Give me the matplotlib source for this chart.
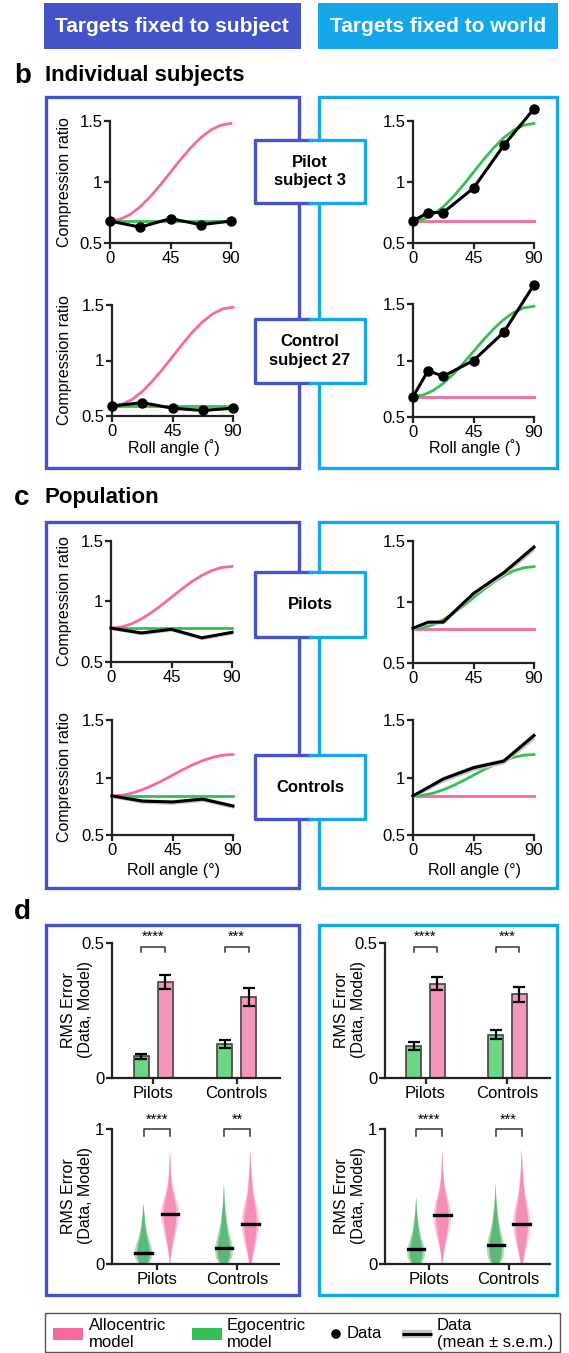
import matplotlib.pyplot as plt
from matplotlib.patches import Rectangle, Circle
import numpy as np

plt.rcParams['font.family'] = ['Liberation Sans', 'DejaVu Sans']

VIOLET = '#4453C7'
SKY = '#16A6EA'
PINK = '#F46A9F'
GREEN = '#35BF55'
BAR_PINK = '#F596BC'
BAR_GREEN = '#6ED486'
VIO_PINK = '#F48DB8'
VIO_PINK_EDGE = '#F9C3DA'
VIO_GREEN = '#5DB97A'
VIO_GREEN_EDGE = '#ADDCBB'

# ---- model curves (compression ratio vs roll angle) ----
model_ang = [0, 7.5, 15, 22.5, 30, 37.5, 45, 52.5, 60, 67.5, 75, 82.5, 90]
rot_pilot3 = [0.68, 0.694, 0.734, 0.797, 0.88, 0.976, 1.08, 1.184, 1.28, 1.363, 1.426, 1.466, 1.48]
rot_control27_subj = [0.59, 0.605, 0.65, 0.72, 0.813, 0.92, 1.035, 1.15, 1.258, 1.35, 1.42, 1.465, 1.48]
rot_control27_world = [0.68, 0.694, 0.734, 0.797, 0.88, 0.976, 1.08, 1.184, 1.28, 1.363, 1.426, 1.466, 1.48]
rot_pilots = [0.78, 0.789, 0.814, 0.855, 0.908, 0.969, 1.035, 1.101, 1.163, 1.215, 1.256, 1.281, 1.29]
rot_controls = [0.84, 0.846, 0.864, 0.893, 0.93, 0.973, 1.02, 1.067, 1.11, 1.147, 1.176, 1.194, 1.20]
flat_ang = [0, 90]
flat_pilot3 = [0.68, 0.68]
flat_control27_subj = [0.59, 0.59]
flat_control27_world = [0.68, 0.68]
flat_pilots = [0.78, 0.78]
flat_controls = [0.84, 0.84]

# ---- measured data ----
ang5 = [0, 22.5, 45, 67.5, 90]
ang6 = [0, 11.25, 22.5, 45, 67.5, 90]
pilot3_subj = [0.68, 0.63, 0.70, 0.65, 0.68]
pilot3_world = [0.68, 0.75, 0.75, 0.95, 1.30, 1.60]
control27_subj = [0.59, 0.62, 0.57, 0.55, 0.57]
control27_world = [0.68, 0.91, 0.86, 1.00, 1.25, 1.67]

pilots_subj = [0.78, 0.74, 0.77, 0.70, 0.745]
pilots_subj_sem = [0.012, 0.015, 0.015, 0.015, 0.015]
pilots_world = [0.785, 0.835, 0.835, 1.07, 1.24, 1.45]
pilots_world_sem = [0.012, 0.015, 0.015, 0.018, 0.022, 0.03]
controls_subj = [0.84, 0.795, 0.787, 0.812, 0.752]
controls_subj_sem = [0.015, 0.02, 0.02, 0.02, 0.02]
controls_world = [0.84, 0.987, 1.085, 1.143, 1.365]
controls_world_sem = [0.015, 0.025, 0.025, 0.025, 0.035]

# ---- RMS error summaries ----
groups = ['Pilots', 'Controls']
subj_ego = [0.081, 0.126]
subj_ego_sem = [0.009, 0.014]
subj_allo = [0.355, 0.30]
subj_allo_sem = [0.027, 0.033]
world_ego = [0.12, 0.16]
world_ego_sem = [0.015, 0.017]
world_allo = [0.35, 0.31]
world_allo_sem = [0.025, 0.027]
subj_bar_stars = ['****', '***']
world_bar_stars = ['****', '***']
subj_vio_stars = ['****', '**']
world_vio_stars = ['****', '***']

vio_levels = [0, 0.05, 0.1, 0.15, 0.2, 0.25, 0.3, 0.35, 0.4, 0.45,
              0.5, 0.55, 0.6, 0.65, 0.7, 0.75, 0.8, 0.85]
subj_ego_density = [
    [0.6, 1.0, 1.0, 0.8, 0.55, 0.37, 0.24, 0.15, 0.07, 0, 0, 0, 0, 0, 0, 0, 0, 0],
    [0.5, 0.94, 1.0, 0.94, 0.75, 0.56, 0.4, 0.29, 0.2, 0.12, 0.07, 0.035, 0, 0, 0, 0, 0, 0]]
subj_allo_density = [
    [0.03, 0.11, 0.23, 0.4, 0.57, 0.74, 0.9, 1.0, 1.0, 0.85, 0.62, 0.4, 0.26, 0.17, 0.11, 0.07, 0.03, 0],
    [0.12, 0.3, 0.47, 0.65, 0.82, 0.94, 1.0, 0.94, 0.82, 0.65, 0.47, 0.35, 0.26, 0.19, 0.13, 0.08, 0.04, 0]]
world_ego_density = [
    [0.6, 1.0, 1.0, 0.85, 0.6, 0.42, 0.28, 0.18, 0.1, 0.05, 0, 0, 0, 0, 0, 0, 0, 0],
    [0.5, 0.9, 1.0, 0.95, 0.8, 0.6, 0.44, 0.32, 0.22, 0.14, 0.08, 0.04, 0, 0, 0, 0, 0, 0]]
world_allo_density = [
    [0.05, 0.14, 0.27, 0.44, 0.62, 0.8, 0.95, 1.0, 0.95, 0.8, 0.6, 0.4, 0.26, 0.17, 0.11, 0.07, 0.03, 0],
    [0.12, 0.3, 0.47, 0.65, 0.82, 0.94, 1.0, 0.94, 0.82, 0.65, 0.47, 0.35, 0.26, 0.19, 0.13, 0.08, 0.04, 0]]
subj_ego_med = [0.08, 0.12]
subj_allo_med = [0.37, 0.30]
world_ego_med = [0.11, 0.14]
world_allo_med = [0.36, 0.30]

W, H = 569, 1353
fig = plt.figure(figsize=(W / 100, H / 100), dpi=100)
bg = fig.add_axes([0, 0, 1, 1])
bg.set_xlim(0, W)
bg.set_ylim(H, 0)
bg.axis('off')


def add_ax(x0, x1, ytop, ybot):
    ax = fig.add_axes([x0 / W, 1 - ybot / H, (x1 - x0) / W, (ybot - ytop) / H])
    ax.patch.set_alpha(0)
    for s in ['top', 'right']:
        ax.spines[s].set_visible(False)
    for s in ['left', 'bottom']:
        ax.spines[s].set_linewidth(1.6)
        ax.spines[s].set_color('#222222')
    ax.tick_params(width=1.6, length=4, labelsize=12, pad=1.5, color='#222222')
    return ax


def frame(x0, x1, y0, y1, color):
    bg.add_patch(Rectangle((x0, y0), x1 - x0, y1 - y0, fill=False, ec=color, lw=2.4))


def label_box(y0, y1, text):
    x0, x1, xm = 255, 365, 310
    bg.add_patch(Rectangle((x0, y0), x1 - x0, y1 - y0, fc='white', ec='none', zorder=3))
    bg.plot([xm, x0, x0, xm], [y0, y0, y1, y1], color=VIOLET, lw=2.4, zorder=4)
    bg.plot([xm, x1, x1, xm], [y0, y0, y1, y1], color=SKY, lw=2.4, zorder=4)
    bg.text(xm, (y0 + y1) / 2, text, ha='center', va='center', fontsize=12,
            fontweight='bold', zorder=5, linespacing=1.3)


def ratio_panel(x0, ytop, ybot, pink, green, data_ang, data, sem=None, dots=True):
    ax = add_ax(x0, x0 + 121, ytop, ybot)
    ax.set_xlim(0, 90)
    ax.set_ylim(0.5, 1.5)
    ax.set_xticks([0, 45, 90])
    ax.set_yticks([0.5, 1, 1.5])
    ax.set_yticklabels(['0.5', '1', '1.5'])
    ax.plot(pink[0], pink[1], color=PINK, lw=2.0, clip_on=False, zorder=2)
    ax.plot(green[0], green[1], color=GREEN, lw=2.0, clip_on=False, zorder=2)
    if sem is not None:
        lo = [m - s for m, s in zip(data, sem)]
        hi = [m + s for m, s in zip(data, sem)]
        ax.fill_between(data_ang, lo, hi, color='#C4C4C4', lw=0, zorder=3, clip_on=False)
    ax.plot(data_ang, data, color='black', lw=2.2, zorder=4, clip_on=False,
            marker='o' if dots else None, ms=6.5)
    return ax


# ---- header ----
bg.add_patch(Rectangle((44, 3), 257, 46, fc=VIOLET, ec='none'))
bg.add_patch(Rectangle((318, 3), 240, 46, fc=SKY, ec='none'))
bg.text(172, 26, 'Targets fixed to subject', color='white', fontsize=15,
        fontweight='bold', ha='center', va='center')
bg.text(438, 26, 'Targets fixed to world', color='white', fontsize=15,
        fontweight='bold', ha='center', va='center')

# ---- b: individual subjects ----
bg.text(14, 76, 'b', fontsize=20, fontweight='bold', va='center')
bg.text(45, 76, 'Individual subjects', fontsize=16, fontweight='bold', va='center')
frame(46, 299, 97, 468, VIOLET)
frame(319, 557, 97, 468, SKY)

ratio_panel(110, 121, 243, (model_ang, rot_pilot3), (flat_ang, flat_pilot3), ang5, pilot3_subj)
ratio_panel(413, 121, 243, (flat_ang, flat_pilot3), (model_ang, rot_pilot3), ang6, pilot3_world)
ratio_panel(112, 305, 416, (model_ang, rot_control27_subj), (flat_ang, flat_control27_subj),
            ang5, control27_subj)
ratio_panel(413, 304, 417, (flat_ang, flat_control27_world), (model_ang, rot_control27_world),
            ang6, control27_world)
label_box(140, 203, 'Pilot\nsubject 3')
label_box(319, 383, 'Control\nsubject 27')
for yc in (182, 360):
    bg.text(65, yc, 'Compression ratio', rotation=90, fontsize=11.5, ha='center', va='center')
bg.text(174, 448, 'Roll angle (˚)', fontsize=11.5, ha='center', va='center')
bg.text(475, 448, 'Roll angle (˚)', fontsize=11.5, ha='center', va='center')

# ---- c: population ----
bg.text(14, 498, 'c', fontsize=20, fontweight='bold', va='center')
bg.text(45, 498, 'Population', fontsize=16, fontweight='bold', va='center')
frame(46, 299, 522, 888, VIOLET)
frame(319, 557, 522, 888, SKY)

ratio_panel(111, 541, 662, (model_ang, rot_pilots), (flat_ang, flat_pilots),
            ang5, pilots_subj, pilots_subj_sem, dots=False)
ratio_panel(413, 541, 663, (flat_ang, flat_pilots), (model_ang, rot_pilots),
            ang6, pilots_world, pilots_world_sem, dots=False)
ratio_panel(112, 720, 835, (model_ang, rot_controls), (flat_ang, flat_controls),
            ang5, controls_subj, controls_subj_sem, dots=False)
ratio_panel(413, 720, 835, (flat_ang, flat_controls), (model_ang, rot_controls),
            ang5, controls_world, controls_world_sem, dots=False)
label_box(572, 637, 'Pilots')
label_box(755, 819, 'Controls')
for yc in (601, 777):
    bg.text(65, yc, 'Compression ratio', rotation=90, fontsize=11.5, ha='center', va='center')
bg.text(174, 870, 'Roll angle (°)', fontsize=11.5, ha='center', va='center')
bg.text(475, 870, 'Roll angle (°)', fontsize=11.5, ha='center', va='center')

# ---- d: RMS errors ----
bg.text(14, 912, 'd', fontsize=20, fontweight='bold', va='center')
frame(46, 299, 925, 1295, VIOLET)
frame(319, 557, 925, 1295, SKY)


def brackets(ax, stars, y_top, y_leg, y_txt, off):
    for i, s in enumerate(stars):
        ax.plot([i - off, i - off, i + off, i + off], [y_leg, y_top, y_top, y_leg],
                color='#333333', lw=1.1, clip_on=False)
        ax.text(i, y_txt, s, ha='center', va='center', fontsize=10.5)


def bar_panel(x0, x1, ego, ego_sem, allo, allo_sem, stars):
    ax = add_ax(x0, x1, 943, 1078)
    ax.set_xlim(-0.495, 1.52)
    ax.set_ylim(0, 0.5)
    ax.set_yticks([0, 0.5])
    ax.set_yticklabels(['0', '0.5'])
    x = np.arange(len(groups))
    ax.bar(x - 0.145, ego, 0.18, color=BAR_GREEN, ec='#444444', lw=1.2)
    ax.bar(x + 0.145, allo, 0.18, color=BAR_PINK, ec='#444444', lw=1.2)
    ax.errorbar(x - 0.145, ego, yerr=ego_sem, fmt='none', ecolor='black', elinewidth=1.6,
                capsize=4, capthick=1.6)
    ax.errorbar(x + 0.145, allo, yerr=allo_sem, fmt='none', ecolor='black', elinewidth=1.6,
                capsize=4, capthick=1.6)
    ax.set_xticks(x)
    ax.set_xticklabels(groups)
    brackets(ax, stars, 0.485, 0.466, 0.524, 0.145)
    return ax


def violin(ax, cx, dens, half, color):
    w = np.array(dens) * half
    ys = np.array(vio_levels)
    ax.fill(np.concatenate([cx - w, (cx + w)[::-1]]), np.concatenate([ys, ys[::-1]]),
            color=color, lw=0)


def violin_panel(x0, x1, ego_d, allo_d, ego_med, allo_med, stars):
    ax = add_ax(x0, x1, 1129, 1264)
    ax.set_xlim(-0.557, 1.52)
    ax.set_ylim(0, 1)
    ax.set_yticks([0, 1])
    ax.set_yticklabels(['0', '1'])
    half = 0.11
    for i in range(len(groups)):
        for cx, dens, col, edge in ((i - 0.165, ego_d[i], VIO_GREEN, VIO_GREEN_EDGE),
                                    (i + 0.165, allo_d[i], VIO_PINK, VIO_PINK_EDGE)):
            # soft outer rim, solid core
            violin(ax, cx, dens, half, edge)
            violin(ax, cx, dens, half * 0.72, col)
        ax.plot([i - 0.165 - 0.1, i - 0.165 + 0.1], [ego_med[i]] * 2, color='black', lw=2.4)
        ax.plot([i + 0.165 - 0.105, i + 0.165 + 0.105], [allo_med[i]] * 2, color='black', lw=2.4)
    ax.set_xticks(range(len(groups)))
    ax.set_xticklabels(groups)
    brackets(ax, stars, 1.0, 0.95, 1.065, 0.165)
    return ax


bar_panel(112, 280, subj_ego, subj_ego_sem, subj_allo, subj_allo_sem, subj_bar_stars)
bar_panel(385, 550, world_ego, world_ego_sem, world_allo, world_allo_sem, world_bar_stars)
violin_panel(112, 279, subj_ego_density, subj_allo_density, subj_ego_med, subj_allo_med,
             subj_vio_stars)
violin_panel(385, 550, world_ego_density, world_allo_density, world_ego_med, world_allo_med,
             world_vio_stars)
for xc in (77, 350):
    for yc in (1010, 1196):
        bg.text(xc, yc, 'RMS Error\n(Data, Model)', rotation=90, fontsize=11.5,
                ha='center', va='center', linespacing=1.15)

# ---- legend ----
bg.add_patch(Rectangle((45, 1313), 515, 39, fill=False, ec='#555555', lw=1.0))
bg.add_patch(Rectangle((53, 1328), 30, 12, fc=PINK, ec='none'))
bg.text(89, 1334, 'Allocentric\nmodel', fontsize=12, va='center', linespacing=1.15)
bg.add_patch(Rectangle((192, 1328), 30, 12, fc=GREEN, ec='none'))
bg.text(227, 1334, 'Egocentric\nmodel', fontsize=12, va='center', linespacing=1.15)
bg.add_patch(Circle((336, 1334), 4.8, fc='black', ec='none'))
bg.text(347, 1334, 'Data', fontsize=12, va='center')
bg.plot([402, 432], [1334, 1334], color='#C4C4C4', lw=6, solid_capstyle='butt')
bg.plot([402, 432], [1334, 1334], color='black', lw=2.2, solid_capstyle='butt')
bg.text(437, 1334, 'Data\n(mean ± s.e.m.)', fontsize=12, va='center', linespacing=1.15)

fig.savefig('out.png', dpi=100)
